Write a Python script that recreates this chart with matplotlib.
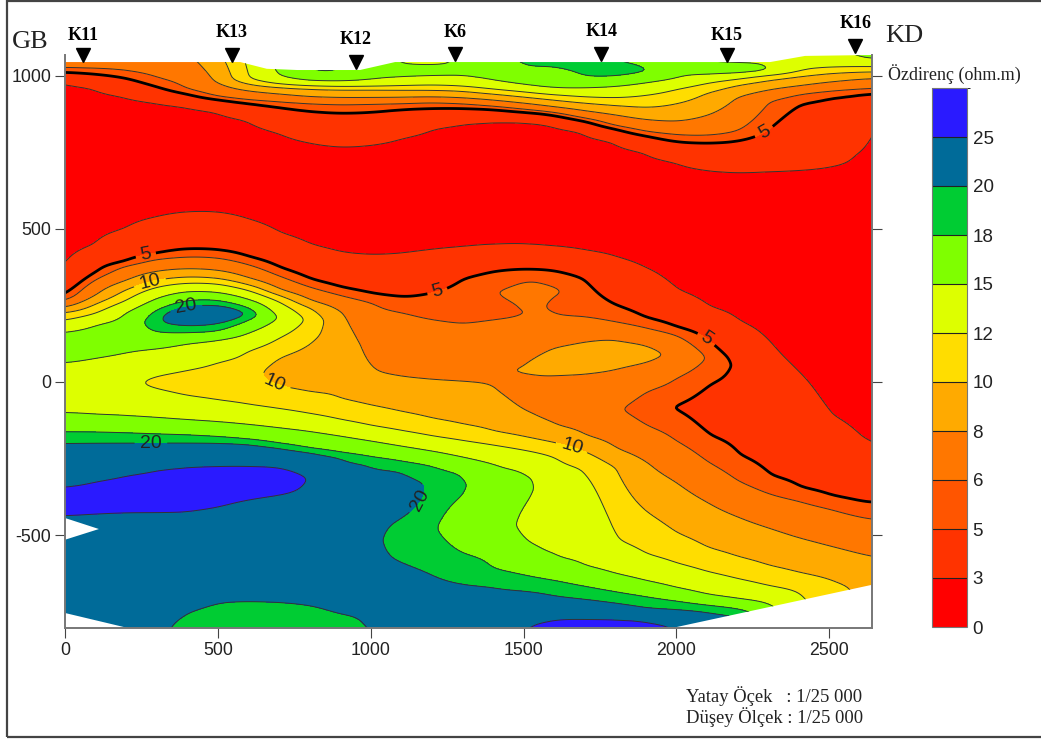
import numpy as np
import matplotlib
matplotlib.use("Agg")
import matplotlib.pyplot as plt
from matplotlib.colors import ListedColormap, BoundaryNorm
from matplotlib.patches import Polygon, Rectangle

plt.rcParams["axes.unicode_minus"] = False

levels = [0, 3, 5, 6, 8, 10, 12, 15, 18, 20, 25, 30]
colors = ["#ff0000", "#ff3300", "#ff5500", "#ff7700", "#ffaa00", "#ffdd00",
          "#ddff00", "#7fff00", "#00cc33", "#006b99", "#2a1aff"]

# resistivity profiles: (elevation m, ohm.m), top to bottom
c0000 = [(1080,7),(1021,6),(1012,5),(982,3),(692,1.5),(345,3),(275,5),(262,6),(241,8),(225,10),(199,12),(163,15),(111,16.5),(62,15),(-20,13),(-101,15),(-163,18),(-199,20),(-271,22),(-343,25),(-385,26),(-437,25),(-597,22),(-842,22)]
c0100 = [(1080,7),(1020,6),(1005,5),(963,3),(708,1.5),(447,3),(359,5),(336,6),(284,8),(255,10),(222,12),(189,15),(137,16.5),(78,15),(-10,13),(-108,15),(-163,18),(-199,20),(-323,25),(-375,26),(-431,25),(-597,22),(-842,22)]
c0200 = [(1080,7),(1015,6),(992,5),(933,3),(724,1.5),(499,3),(392,5),(379,6),(330,8),(300,10),(264,12),(225,15),(160,16.5),(95,15),(-10,13),(-112,15),(-166,18),(-199,20),(-303,25),(-365,26),(-427,25),(-597,22),(-842,22)]
c0300 = [(1080,7.5),(992,6),(963,5),(914,3),(724,1.5),(538,3),(418,5),(401,6),(362,8),(333,10),(310,12),(274,15),(235,18),(196,19.8),(160,18),(108,15),(20,12),(0,11),(-23,12),(-117,15),(-170,18),(-199,20),(-284,25),(-356,26),(-427,25),(-613,22),(-793,20.5),(-842,20.5)]
c0400 = [(1080,7.9),(956,6),(940,5),(901,3),(724,1.5),(555,3),(434,5),(408,6),(370,8),(343,10),(323,12),(297,15),(268,18),(248,20),(215,24),(183,20),(160,18),(127,15),(39,12),(-3,11),(-47,12),(-124,15),(-173,18),(-199,20),(-274,25),(-352,26),(-426,25),(-597,22),(-750,20),(-842,19)]
c0500 = [(1080,9.8),(979,8),(930,6),(923,5),(884,3),(724,1.5),(555,3),(431,5),(405,6),(365,8),(339,10),(321,12),(294,15),(269,18),(251,20),(222,24),(189,20),(163,18),(137,15),(65,12),(6,11),(-62,12),(-130,15),(-179,18),(-199,20),(-271,25),(-339,26),(-411,25),(-565,22),(-718,20),(-842,19)]
c0600 = [(1080,12.5),(989,12),(972,10),(950,8),(920,6),(910,5),(855,3),(692,1.5),(532,3),(408,5),(382,6),(339,8),(317,10),(300,12),(271,15),(245,18),(222,19.9),(202,18),(160,15),(101,12),(13,10.6),(-75,12),(-139,15),(-188,18),(-202,20),(-271,25),(-326,26),(-385,25),(-548,22),(-715,20),(-842,19)]
c0700 = [(1080,16.5),(998,15),(971,12),(963,10),(940,8),(915,6),(897,5),(813,3),(659,1.5),(486,3),(372,5),(343,6),(300,8),(281,10),(261,12),(209,14.9),(144,12),(82,10),(33,9),(-16,10),(-88,12),(-150,15),(-202,18),(-215,20),(-277,25),(-320,28),(-369,25),(-548,22),(-718,20),(-842,19)]
c0800 = [(1080,19.5),(1010,18),(982,15),(966,12),(958,10),(930,8),(910,6),(884,5),(780,3),(627,1.5),(447,3),(333,5),(307,6),(264,8),(241,10),(202,11.5),(134,10),(55,9),(-37,10),(-104,12),(-161,15),(-219,18),(-228,20),(-313,24.9),(-516,22),(-728,20),(-842,19)]
c0900 = [(1080,18.8),(1007,18),(981,15),(963,12),(956,10),(927,8),(907,6),(878,5),(767,3),(594,1.5),(421,3),(307,5),(281,6),(228,8),(121,9.5),(-55,10),(-124,12),(-176,15),(-232,18),(-245,20),(-483,22),(-760,20),(-842,19)]
c1000 = [(1080,18.3),(985,15),(964,12),(956,10),(927,8),(909,6),(881,5),(773,3),(594,1.5),(413,3),(287,5),(258,6),(137,7),(33,8),(-77,10),(-144,12),(-192,15),(-246,18),(-264,20),(-516,21),(-793,20),(-842,19.5)]
c1100 = [(1080,13.5),(1034,15),(1018,16.5),(995,15),(966,12),(954,10),(928,8),(910,6),(891,5),(796,3),(610,1.5),(418,3),(274,5),(228,6),(121,7),(16,8),(-98,10),(-160,12),(-209,15),(-259,18),(-287,20),(-369,21.5),(-450,20),(-516,18.5),(-591,20),(-777,22),(-842,22)]
c1200 = [(1080,13.5),(1031,15),(1018,16.5),(1000,15),(969,12),(953,10),(930,8),(914,6),(894,5),(829,3),(627,1.5),(431,3),(290,5),(202,6),(7,8),(-121,10),(-178,12),(-225,15),(-274,18),(-330,19.7),(-483,18.5),(-626,20),(-842,22)]
c1300 = [(1080,15.5),(995,15),(966,12),(950,10),(927,8),(910,6),(894,5),(845,3),(643,1.5),(439,3),(339,5),(186,6),(2,8),(-140,10),(-192,12),(-245,15),(-300,18),(-336,18.5),(-370,18),(-467,16),(-565,18),(-659,20),(-842,22)]
c1400 = [(1080,17.5),(982,15),(956,12),(940,10),(920,8),(901,6),(891,5),(852,3),(643,1.5),(447,3),(362,5),(294,5.95),(248,5.5),(202,6),(-7,8),(-163,10),(-206,12),(-268,15),(-418,17),(-610,18),(-666,20),(-842,22)]
c1500 = [(1080,19),(1025,18),(968,15),(948,12),(930,10),(910,8),(891,6),(881,5),(852,3),(643,1.5),(449,3),(369,5),(333,6),(284,6.5),(235,6),(225,5.8),(215,6),(49,8),(39,8.3),(29,8),(-26,7),(-91,8),(-179,10),(-222,12),(-287,15),(-346,16),(-405,15),(-467,14),(-525,15),(-630,18),(-682,20),(-790,24.8),(-842,26)]
c1550 = [(1080,19),(1028,18),(961,15),(943,12),(925,10),(904,8),(886,6),(878,5),(848,3),(643,1.5),(444,3),(367,5),(336,6),(219,6.5),(91,8),(55,8.5),(16,8),(-52,7),(-117,8),(-189,10),(-232,12),(-316,14.9),(-434,14),(-551,15),(-640,18),(-688,20),(-783,25),(-842,26)]
c1600 = [(1080,19),(1028,18),(956,15),(938,12),(920,10),(897,8),(881,6),(871,5),(842,3),(643,1.5),(441,3),(365,5),(317,6),(297,6.3),(277,6),(245,5.6),(215,6),(114,8),(69,8.5),(20,8),(-59,7),(-144,8),(-196,10),(-243,12),(-418,14),(-577,15),(-646,18),(-701,20),(-770,25),(-842,26)]
c1700 = [(1080,19.5),(992,18),(959,15),(930,12),(910,10),(884,8),(861,6),(852,5),(819,3),(627,1.5),(428,3),(339,5),(212,6),(134,8),(78,8.6),(24,8),(-75,7),(-176,8),(-225,10),(-281,12),(-450,14),(-600,15),(-666,18),(-711,20),(-770,25),(-842,26)]
c1800 = [(1080,18),(1038,18),(1018,19.5),(997,18),(964,15),(927,12),(902,10),(871,8),(835,6),(826,5),(786,3),(594,1.5),(408,3),(251,5),(196,6),(144,8),(88,8.6),(36,8),(-91,6.2),(-219,8),(-281,10),(-401,11),(-516,12),(-626,15),(-684,18),(-724,20),(-770,25),(-842,26)]
c1900 = [(1080,17.5),(1023,18),(1018,19),(1013,18),(976,15),(936,12),(894,10),(855,8),(816,6),(803,5),(751,3),(561,1.5),(375,3),(209,5),(176,6),(124,8),(91,8.8),(59,8),(-29,6),(-85,5.3),(-144,6),(-264,8),(-424,10),(-563,12),(-649,15),(-700,18),(-741,20),(-775,25),(-842,26)]
c2000 = [(1080,16),(989,15),(956,12),(907,10),(848,8),(806,6),(783,5),(718,3),(512,1.5),(300,3),(180,5),(153,6),(88,7.5),(13,6),(-82,4.95),(-192,6),(-326,8),(-493,10),(-592,12),(-672,15),(-714,18),(-744,20),(-790,24.8),(-842,26)]
c2100 = [(1080,14.5),(1041,15),(1025,16.5),(1002,15),(976,12),(943,10),(868,8),(803,6),(780,5),(692,3),(463,1.5),(245,3),(140,5),(78,5.95),(-7,5),(-91,4.5),(-176,5),(-261,6),(-392,8),(-542,10),(-620,12),(-695,15),(-728,18),(-750,20),(-842,22)]
c2200 = [(1080,14.5),(1034,15),(1021,17),(1008,15),(989,12),(969,10),(930,8),(816,6),(786,5),(685,3),(447,1.5),(199,3),(56,4.9),(-91,4.5),(-238,5),(-323,6),(-440,8),(-571,10),(-643,12),(-708,15),(-739,18),(-759,20),(-842,22)]
c2300 = [(1080,14.5),(1038,15),(1025,15.3),(1012,15),(1003,12),(985,10),(953,8),(917,6),(826,5),(689,3),(414,1.5),(127,3),(-307,5),(-365,6),(-476,8),(-600,10),(-666,12),(-721,15),(-793,18),(-842,18)]
c2400 = [(1080,14),(1015,12),(998,10),(966,8),(940,6),(910,5),(692,3),(365,1.5),(39,3),(-346,5),(-388,6),(-509,8),(-623,10),(-685,12),(-793,14),(-842,14)]
c2500 = [(1080,14.7),(1025,12),(1008,10),(979,8),(950,6),(930,5),(702,3),(300,1.5),(-108,3),(-372,5),(-414,6),(-535,8),(-646,10),(-793,11),(-842,11)]
c2600 = [(1080,15.5),(1054,15),(1030,12),(1012,10),(989,8),(956,6),(940,5),(741,3),(268,1.5),(-183,3),(-392,5),(-441,6),(-561,8),(-666,10),(-793,11),(-842,11)]
c2620 = [(1080,15.5),(1050,15),(1030,12),(1012,10),(990,8),(957,6),(941,5),(845,3),(268,1.5),(-198,3),(-394,5),(-446,6),(-566,8),(-793,10),(-842,10)]
c2640 = [(1080,15.5),(1047,15),(1031,12),(1012,10),(992,8),(959,6),(943,5),(868,3),(268,1.5),(-212,3),(-395,5),(-450,6),(-571,8),(-793,9),(-842,9)]

profile_x = [0, 100, 200, 300, 400, 500, 600, 700, 800, 900, 1000, 1100, 1200, 1300,
             1400, 1500, 1550, 1600, 1700, 1800, 1900, 2000, 2100, 2200, 2300, 2400,
             2500, 2600, 2620, 2640]
profiles = [c0000, c0100, c0200, c0300, c0400, c0500, c0600, c0700, c0800, c0900,
            c1000, c1100, c1200, c1300, c1400, c1500, c1550, c1600, c1700, c1800,
            c1900, c2000, c2100, c2200, c2300, c2400, c2500, c2600, c2620, c2640]

# outline of the gridded area, everything outside is blanked
domain_x = [0, 573, 660, 760, 965, 1080, 2307, 2421, 2640, 2640, 2000, 206, 0, 0, 111, 0]
domain_y = [1044, 1044, 1022, 1018, 1018, 1044, 1044, 1064, 1067, -662, -800, -803, -754, -515, -480, -444]

station_names = ["K11", "K13", "K12", "K6", "K14", "K15", "K16"]
station_x = [59, 546, 952, 1276, 1754, 2166, 2585]
station_y = [1067, 1067, 1044, 1070, 1070, 1067, 1096]
station_label_y = [1132, 1142, 1116, 1139, 1145, 1132, 1171]

label_pos_5 = [(265, 411), (1217, 300), (2287, 816), (2100, 143)]
label_pos_10 = [(278, 323), (684, -10), (1656, -219)]
label_pos_20 = [(396, 245), (281, -192), (1162, -385)]

sans = "Liberation Sans"
serif = "Liberation Serif"
W, H = 1041, 740


def blur(a, sigma, axis):
    # gaussian smoothing in grid cells, edges padded so the borders keep their values
    r = int(3 * sigma)
    k = np.exp(-0.5 * (np.arange(-r, r + 1) / sigma) ** 2)
    k = k / k.sum()
    def one(v):
        return np.convolve(np.pad(v, r, mode="edge"), k, mode="valid")
    return np.apply_along_axis(one, axis, a)


# build the grid from the profiles, bottom to top for np.interp
grid_y = np.arange(-840, 1080, 5)
grid_x = np.arange(0, 2645, 10)
Z = np.zeros((len(grid_y), len(profile_x)))
for j, prof in enumerate(profiles):
    e = [p[0] for p in prof][::-1]
    v = [p[1] for p in prof][::-1]
    Z[:, j] = np.interp(grid_y, e, v)
Z_fine = np.array([np.interp(grid_x, profile_x, row) for row in Z])
Z_fine = blur(blur(Z_fine, 3.5, 1), 1.5, 0)

fig = plt.figure(figsize=(W / 100, H / 100), dpi=100)
fig.add_artist(Rectangle((7 / W, 3 / H), 1.1, (H - 3.5) / H, fill=False, edgecolor="#444444",
                         linewidth=1.6, transform=fig.transFigure))

ax = fig.add_axes([65 / W, (H - 628) / H, (872 - 65) / W, (628 - 55) / H])
cmap = ListedColormap(colors)
norm = BoundaryNorm(levels, cmap.N)

domain = Polygon(list(zip(domain_x, domain_y)), closed=True, transform=ax.transData,
                 facecolor="none", edgecolor="none")
ax.add_patch(domain)

cf = ax.contourf(grid_x, grid_y, Z_fine, levels=levels, cmap=cmap, norm=norm)
cf.set_clip_path(domain)

plain_levels = [3, 6, 8, 12, 15, 18, 25]
cl = ax.contour(grid_x, grid_y, Z_fine, levels=plain_levels, colors="#333333", linewidths=0.7)
cl.set_clip_path(domain)

# labelled levels get their own contour set, level 5 is the heavy one
labelled = [(5, 2.0, "black", label_pos_5), (10, 0.7, "#333333", label_pos_10), (20, 0.7, "#333333", label_pos_20)]
for lv, lw, col, pos in labelled:
    c = ax.contour(grid_x, grid_y, Z_fine, levels=[lv], colors=col, linewidths=lw)
    texts = c.clabel(manual=pos, fmt="%d", fontsize=14, inline=True, inline_spacing=4)
    c.set_clip_path(domain)
    for t in texts:
        t.set_family(sans)
        t.set_color("#222222")

ax.set_xlim(0, 2640)
ax.set_ylim(-803, 1067)
ax.set_xticks([0, 500, 1000, 1500, 2000, 2500])
ax.set_yticks([-500, 0, 500, 1000])
ax.tick_params(axis="both", direction="out", length=7, width=0.8, color="#444444",
               labelsize=12.8, pad=3, right=True, labelcolor="#222222")
for lab in ax.get_xticklabels() + ax.get_yticklabels():
    lab.set_family(sans)
ax.spines["top"].set_visible(False)
for s in ["left", "right", "bottom"]:
    ax.spines[s].set_color("#777777")
    ax.spines[s].set_linewidth(1.4)

ax.plot(station_x, station_y, linestyle="none", marker="v", color="black",
        markersize=10, clip_on=False, zorder=6)
for i in range(len(station_names)):
    ax.text(station_x[i], station_label_y[i], station_names[i], ha="center", va="center",
            family=serif, fontweight="bold", fontsize=13, clip_on=False)

fig.text(30 / W, 1 - 42 / H, "GB", ha="center", va="center", family=serif, fontsize=19, color="#222222")
fig.text(904 / W, 1 - 36 / H, "KD", ha="center", va="center", family=serif, fontsize=19, color="#222222")
fig.text(888 / W, 1 - 74 / H, "Özdirenç (ohm.m)", ha="left", va="center", family=serif, fontsize=13, color="#222222")
fig.text(686 / W, 1 - 696 / H, "Yatay Öçek   : 1/25 000", ha="left", va="center", family=serif, fontsize=13.4, color="#222222")
fig.text(686 / W, 1 - 717 / H, "Düşey Ölçek : 1/25 000", ha="left", va="center", family=serif, fontsize=13.4, color="#222222")

cax = fig.add_axes([932 / W, (H - 627) / H, 35 / W, (627 - 88) / H])
cb = fig.colorbar(cf, cax=cax, spacing="uniform", ticks=levels[:-1], drawedges=True)
cb.dividers.set_color("#222222")
cb.dividers.set_linewidth(0.8)
cb.outline.set_edgecolor("#777777")
cb.outline.set_linewidth(0.8)
cax.tick_params(length=0, labelsize=13.5, pad=4, labelcolor="#222222")
for lab in cax.get_yticklabels():
    lab.set_family(sans)

fig.savefig("out.png", dpi=100)
